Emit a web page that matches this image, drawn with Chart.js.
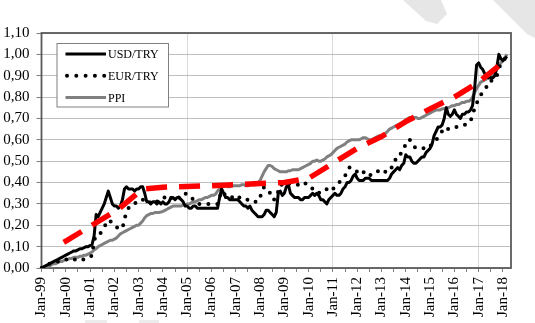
<!DOCTYPE html>
<html>
<head>
<meta charset="utf-8">
<script src="https://cdn.jsdelivr.net/npm/chart.js@4.4.0/dist/chart.umd.min.js"></script>
<style>
html, body { margin: 0; padding: 0; background: #fff; }
</style>
</head>
<body>
<canvas id="myChart" width="535" height="323"></canvas>
<script>
// tick labels on the category axis (one per January)
const yearTicks = ['Jan-99','Jan-00','Jan-01','Jan-02','Jan-03','Jan-04','Jan-05','Jan-06','Jan-07','Jan-08',
                   'Jan-09','Jan-10','Jan-11','Jan-12','Jan-13','Jan-14','Jan-15','Jan-16','Jan-17','Jan-18'];
const monthNames = ['Jan','Feb','Mar','Apr','May','Jun','Jul','Aug','Sep','Oct','Nov','Dec'];
const nCategories = 233; // Jan-99 .. May-18

// monthly values, one row per year (Jan..Dec)
const usdTry = [
  0.00,0.005,0.01,0.015,0.02,0.025,0.03,0.035,0.04,0.045,0.05,0.055,
  0.06,0.065,0.07,0.075,0.08,0.08,0.085,0.09,0.09,0.095,0.10,0.10,
  0.105,0.11,0.15,0.25,0.24,0.26,0.28,0.30,0.33,0.36,0.33,0.30,
  0.29,0.29,0.28,0.29,0.32,0.37,0.38,0.37,0.37,0.37,0.36,0.37,
  0.37,0.38,0.38,0.35,0.31,0.31,0.30,0.31,0.31,0.30,0.31,0.30,
  0.31,0.30,0.30,0.31,0.33,0.33,0.32,0.33,0.33,0.32,0.31,0.29,
  0.29,0.28,0.28,0.29,0.29,0.28,0.28,0.28,0.28,0.28,0.28,0.28,
  0.28,0.28,0.28,0.28,0.33,0.37,0.35,0.33,0.33,0.32,0.32,0.32,
  0.32,0.32,0.31,0.30,0.29,0.29,0.28,0.29,0.27,0.26,0.25,0.24,
  0.24,0.24,0.25,0.27,0.27,0.26,0.25,0.24,0.26,0.35,0.36,0.34,
  0.35,0.38,0.39,0.35,0.34,0.33,0.33,0.33,0.32,0.32,0.33,0.33,
  0.33,0.34,0.35,0.34,0.35,0.34,0.32,0.32,0.31,0.30,0.32,0.33,
  0.34,0.35,0.34,0.34,0.35,0.37,0.38,0.40,0.40,0.41,0.43,0.44,
  0.42,0.41,0.41,0.41,0.42,0.42,0.42,0.41,0.41,0.41,0.41,0.41,
  0.41,0.41,0.41,0.41,0.42,0.44,0.45,0.46,0.47,0.46,0.48,0.49,
  0.53,0.52,0.52,0.50,0.49,0.49,0.50,0.51,0.52,0.52,0.54,0.55,
  0.56,0.58,0.62,0.64,0.66,0.66,0.67,0.70,0.75,0.72,0.71,0.72,
  0.74,0.72,0.71,0.70,0.72,0.72,0.73,0.73,0.74,0.76,0.84,0.95,
  0.96,0.94,0.93,0.91,0.90,0.89,0.89,0.89,0.90,0.94,1.00,0.98,
  0.97,0.98,0.99
];

const eurTry = [
  0.00,0.005,0.01,0.015,0.02,0.02,0.025,0.03,0.03,0.035,0.035,0.04,
  0.04,0.04,0.04,0.045,0.04,0.04,0.045,0.045,0.04,0.04,0.04,0.045,
  0.05,0.06,0.13,0.15,0.15,0.16,0.18,0.19,0.21,0.225,0.22,0.21,
  0.20,0.19,0.19,0.19,0.185,0.23,0.26,0.28,0.29,0.30,0.30,0.31,
  0.31,0.32,0.32,0.32,0.32,0.32,0.30,0.30,0.31,0.31,0.32,0.33,
  0.33,0.33,0.34,0.33,0.33,0.32,0.33,0.33,0.33,0.34,0.35,0.35,
  0.34,0.33,0.33,0.32,0.31,0.30,0.30,0.30,0.30,0.30,0.30,0.30,
  0.30,0.30,0.30,0.30,0.33,0.36,0.35,0.34,0.33,0.33,0.33,0.34,
  0.34,0.33,0.33,0.33,0.32,0.32,0.32,0.32,0.31,0.31,0.31,0.31,
  0.33,0.36,0.38,0.37,0.36,0.35,0.35,0.32,0.33,0.36,0.39,0.39,
  0.39,0.40,0.40,0.39,0.39,0.39,0.39,0.39,0.40,0.40,0.40,0.39,
  0.39,0.38,0.37,0.37,0.36,0.35,0.36,0.36,0.36,0.37,0.37,0.36,
  0.37,0.38,0.39,0.40,0.41,0.42,0.43,0.46,0.47,0.47,0.46,0.46,
  0.45,0.46,0.45,0.45,0.44,0.44,0.43,0.44,0.45,0.45,0.45,0.46,
  0.46,0.45,0.45,0.45,0.45,0.47,0.48,0.51,0.52,0.52,0.55,0.56,
  0.58,0.60,0.60,0.58,0.57,0.56,0.56,0.56,0.56,0.56,0.555,0.56,
  0.57,0.58,0.59,0.60,0.61,0.63,0.64,0.65,0.66,0.65,0.655,0.66,
  0.66,0.66,0.665,0.665,0.665,0.67,0.67,0.68,0.69,0.71,0.75,0.77,
  0.79,0.81,0.82,0.83,0.85,0.87,0.87,0.89,0.90,0.90,0.93,0.96,
  0.97,0.98,0.98
];

const ppi = [
  0.00,0.00,0.005,0.01,0.01,0.015,0.02,0.02,0.025,0.03,0.03,0.035,
  0.04,0.04,0.045,0.045,0.05,0.05,0.05,0.055,0.055,0.06,0.06,0.065,
  0.07,0.075,0.085,0.09,0.10,0.105,0.11,0.115,0.12,0.125,0.13,0.13,
  0.135,0.14,0.15,0.16,0.165,0.17,0.175,0.18,0.185,0.19,0.195,0.20,
  0.20,0.21,0.22,0.235,0.245,0.25,0.255,0.255,0.26,0.26,0.26,0.262,
  0.265,0.27,0.275,0.28,0.285,0.29,0.29,0.29,0.29,0.29,0.295,0.295,
  0.30,0.30,0.305,0.31,0.31,0.315,0.32,0.32,0.325,0.33,0.33,0.335,
  0.34,0.34,0.345,0.36,0.37,0.38,0.385,0.385,0.38,0.38,0.385,0.385,
  0.385,0.385,0.385,0.39,0.39,0.385,0.385,0.39,0.39,0.39,0.39,0.40,
  0.41,0.43,0.45,0.465,0.48,0.48,0.475,0.465,0.46,0.455,0.45,0.45,
  0.45,0.45,0.455,0.455,0.46,0.46,0.46,0.46,0.465,0.47,0.475,0.48,
  0.485,0.49,0.50,0.50,0.505,0.50,0.50,0.505,0.51,0.52,0.525,0.53,
  0.54,0.55,0.56,0.565,0.57,0.575,0.58,0.59,0.595,0.60,0.60,0.60,
  0.60,0.60,0.605,0.61,0.61,0.605,0.60,0.60,0.605,0.61,0.615,0.62,
  0.615,0.62,0.63,0.64,0.65,0.655,0.66,0.665,0.67,0.675,0.68,0.685,
  0.695,0.70,0.705,0.705,0.705,0.705,0.70,0.70,0.705,0.71,0.715,0.72,
  0.725,0.73,0.735,0.74,0.74,0.74,0.745,0.745,0.75,0.75,0.755,0.76,
  0.76,0.765,0.765,0.77,0.775,0.775,0.78,0.78,0.785,0.80,0.82,0.84,
  0.855,0.87,0.875,0.88,0.885,0.89,0.895,0.90,0.91,0.93,0.95,0.96,
  0.97,0.985,1.00
];

// red dashed trend: [month index, value] knots
const trendKnots = [[11,0.12],[38,0.275],[50,0.37],[60,0.378],[84,0.385],[108,0.395],[120,0.40],
  [132,0.42],[144,0.49],[156,0.56],[168,0.615],[180,0.685],[192,0.745],[204,0.80],[216,0.87],[229,0.97]];

const months = [];
for (let i = 0; i < nCategories; i++) {
  const yy = (99 + Math.floor(i / 12)) % 100;
  months.push(monthNames[i % 12] + '-' + String(yy).padStart(2, '0'));
}
const trend = new Array(nCategories).fill(null);
trendKnots.forEach(k => { trend[k[0]] = k[1]; });

const serif = '"Liberation Serif", "Times New Roman", serif';
Chart.defaults.font.family = serif;
Chart.defaults.color = '#000';

const legendItems = [
  { text: 'USD/TRY', color: '#000', width: 3, dash: [] },
  { text: 'EUR/TRY', color: '#000', width: 4, dash: [0, 9.3], cap: 'round' },
  { text: 'PPI', color: '#808080', width: 3, dash: [] }
];

const decor = {
  id: 'decor',
  beforeDraw(chart) {
    const c = chart.ctx;
    c.save();
    c.fillStyle = '#fff';
    c.fillRect(0, 0, chart.width, chart.height);
    // faint watermark stripes
    c.fillStyle = '#e6e6e6';
    c.beginPath();
    c.moveTo(403, 0); c.lineTo(441, 0); c.lineTo(447, 14); c.lineTo(437, 24); c.lineTo(426, 21); c.closePath();
    c.fill();
    c.beginPath();
    c.moveTo(493, 0); c.lineTo(535, 0); c.lineTo(535, 38); c.lineTo(527, 34); c.closePath();
    c.fill();
    c.fillStyle = '#ececec';
    c.fillRect(85, 320, 22, 3);
    c.fillRect(139, 320, 20, 3);
    c.restore();
  },
  beforeDatasetsDraw(chart) {
    const a = chart.chartArea, c = chart.ctx;
    c.save();
    c.strokeStyle = '#5a5a5a';
    c.lineWidth = 1.8;
    c.strokeRect(a.left, a.top, a.right - a.left, a.bottom - a.top);
    c.restore();
  },
  afterDraw(chart) {
    const c = chart.ctx;
    c.save();
    c.fillStyle = '#fff';
    c.strokeStyle = '#808080';
    c.lineWidth = 1;
    c.fillRect(57, 43.5, 111.5, 63.5);
    c.strokeRect(57, 43.5, 111.5, 63.5);
    c.font = '12px ' + serif;
    c.textBaseline = 'middle';
    legendItems.forEach((it, i) => {
      const y = 54 + i * 21.7;
      c.beginPath();
      c.strokeStyle = it.color;
      c.lineWidth = it.width;
      c.lineCap = it.cap || 'butt';
      c.setLineDash(it.dash);
      c.moveTo(it.cap ? 67 : 65.5, y);
      c.lineTo(it.cap ? 104.5 : 106, y);
      c.stroke();
      c.setLineDash([]);
      c.fillStyle = '#000';
      c.fillText(it.text, 108, y + 1);
    });
    c.restore();
  }
};

const ctx = document.getElementById('myChart').getContext('2d');
const myChart = new Chart(ctx, {
  type: 'line',
  data: {
    labels: months,
    datasets: [
      { label: 'trend', data: trend, borderColor: '#ff0000', borderWidth: 5.5, borderDash: [21, 12],
        spanGaps: true, pointRadius: 0, tension: 0, order: 0 },
      { label: 'USD/TRY', data: usdTry, borderColor: '#000', borderWidth: 3, pointRadius: 0,
        tension: 0, borderJoinStyle: 'round', order: 1 },
      { label: 'EUR/TRY', data: eurTry, borderColor: '#000', borderWidth: 4, borderDash: [0, 9],
        borderCapStyle: 'round', pointRadius: 0, tension: 0, order: 2 },
      { label: 'PPI', data: ppi, borderColor: '#808080', borderWidth: 3, pointRadius: 0,
        tension: 0, borderJoinStyle: 'round', order: 3 }
    ]
  },
  options: {
    responsive: false,
    devicePixelRatio: 1,
    animation: false,
    layout: { padding: { top: 33, left: 3, right: 24, bottom: 0 } },
    plugins: { legend: { display: false }, tooltip: { enabled: false } },
    scales: {
      x: {
        offset: false,
        border: { display: false },
        grid: {
          // gridlines at January only, tick marks every half year
          color: c => c.index % 12 === 0 ? '#d9d9d9' : 'rgba(0,0,0,0)',
          tickColor: '#808080',
          tickLength: 4
        },
        ticks: {
          autoSkip: false, maxRotation: 90, minRotation: 90, padding: 5,
          font: { size: 15 },
          callback: (val, idx) => idx % 12 === 0 ? yearTicks[idx / 12] : (idx % 6 === 0 ? '' : null)
        },
        afterFit: s => { s.height = 55; }
      },
      y: {
        min: 0, max: 1.1,
        border: { display: false },
        grid: { color: '#bfbfbf', tickColor: '#808080', tickLength: 5 },
        ticks: {
          stepSize: 0.1, autoSkip: false, padding: 7, font: { size: 15 },
          callback: v => v.toFixed(2).replace('.', ',')
        },
        afterFit: s => { s.width = 38.5; }
      }
    }
  },
  plugins: [decor]
});
</script>
</body>
</html>
